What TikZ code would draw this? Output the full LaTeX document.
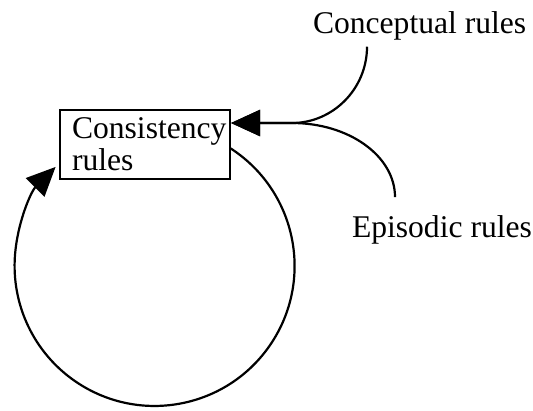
\documentclass[tikz,border=0pt]{standalone}
\usepackage{fontspec}
\setmainfont{Liberation Serif}
\usetikzlibrary{arrows.meta,calc}
\begin{document}
\begin{tikzpicture}[x=1bp,y=-1bp,
  every node/.style={font=\fontsize{31.6bp}{32bp}\selectfont, inner sep=0pt, outer sep=0pt},
  ln/.style={line width=2.2bp},
  arr/.style={ln, -{Triangle[length=29bp,width=26bp]}},
  rulebox/.style={draw, ln, text width=146bp, inner xsep=12bp, inner ysep=0pt,
    minimum height=69bp, align=left, anchor=north west}]
\useasboundingbox (0,0) rectangle (533,410);
\node[rulebox] (box) at (60,110) {Consistency\\rules};
\node[anchor=base west] (concept) at (313,33) {Conceptual rules};
\node[anchor=base west] (episodic) at (352,237) {Episodic rules};
\coordinate (tip) at ($(box.north east)+(1,13)$);
\coordinate (join) at (292,123);
\draw[arr] ($(concept.south west)+(54,7)$) .. controls +(0,42) and (333,123) .. (join) -- (tip);
\draw[arr] ($(episodic.north west)+(43,-18)$) .. controls +(0,-41) and (349,123) .. (join) -- (tip);
\draw[arr] ($(box.east)+(0,3.5)$) arc[start angle=57.4, end angle=-225, radius=140bp];
\end{tikzpicture}
\end{document}
